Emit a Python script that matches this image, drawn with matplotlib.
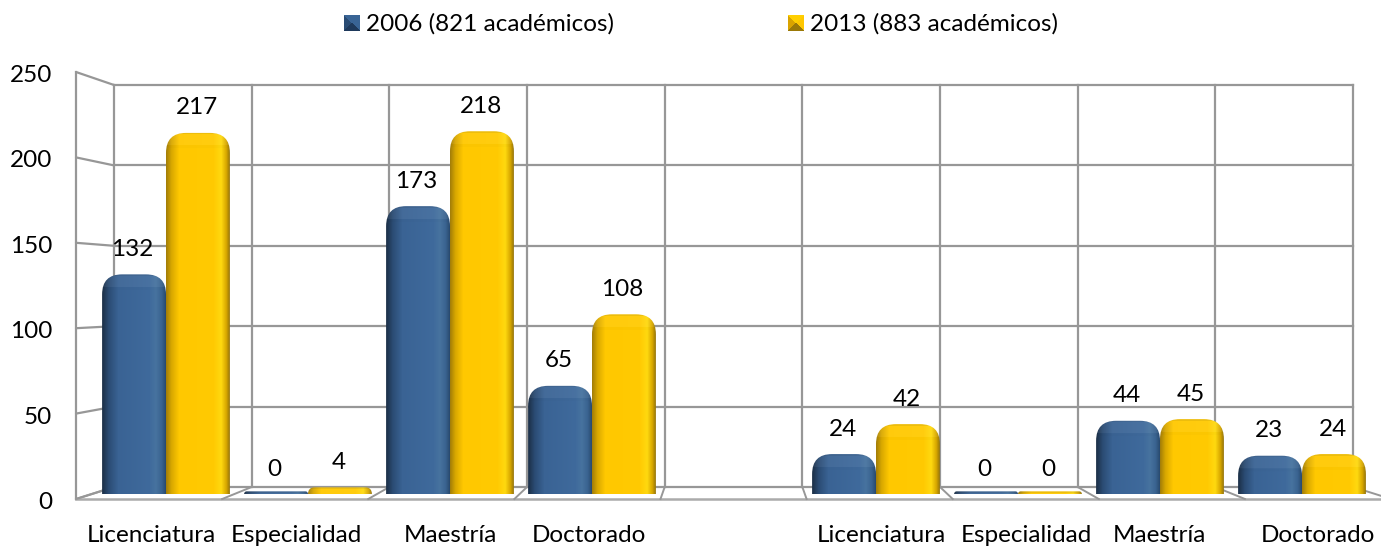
import numpy
import matplotlib
matplotlib.use("Agg")
import matplotlib.pyplot as plt
from matplotlib.colors import LinearSegmentedColormap
from matplotlib.patches import PathPatch
from matplotlib.path import Path

categories = ["Licenciatura", "Especialidad", "Maestría", "Doctorado", "",
              "Licenciatura", "Especialidad", "Maestría", "Doctorado"]
values_2006 = [132, 0, 173, 65, None, 24, 0, 44, 23]
values_2013 = [217, 4, 218, 108, None, 42, 0, 45, 24]
y_ticks = [0, 50, 100, 150, 200, 250]
legend_labels = ["2006 (821 académicos)", "2013 (883 académicos)"]

WIDTH, HEIGHT = 1381, 548
# bar plane: where category 0 sits and how many pixels one unit takes
X_ZERO, X_STEP = 166.0, 142.0
Y_ZERO, Y_STEP = 494.0, 1.664
BAR_W = 0.45
FONT = "Lato"
FONT_SIZE = 17.5
GRID = "#979797"

blue = LinearSegmentedColormap.from_list("blue", [(0, "#1c3048"), (0.1, "#2b4c74"), (0.25, "#3a6394"), (0.75, "#3f6a9c"),
                                                  (0.85, "#47739f"), (0.94, "#3a6390"), (1, "#2a4c72")])
yellow = LinearSegmentedColormap.from_list("yellow", [(0, "#a57f08"), (0.08, "#d9a800"), (0.2, "#ffc800"), (0.75, "#ffca02"),
                                                      (0.87, "#ffd90f"), (0.95, "#d8a800"), (1, "#9c7a0a")])

plt.rcParams["font.family"] = [FONT, "DejaVu Sans"]
fig = plt.figure(figsize=(WIDTH / 100, HEIGHT / 100), dpi=100)

# background in pixel coordinates for the fake 3D walls
bg = fig.add_axes([0, 0, 1, 1])
bg.set_xlim(0, WIDTH)
bg.set_ylim(HEIGHT, 0)
bg.axis("off")


def front_y(v):
    return 499 - 1.708 * v


def back_y(v):
    return 487 - 1.608 * v


wall_x = [114 + 137.67 * i for i in range(10)]
for v in y_ticks:
    bg.plot([76, 114], [front_y(v), back_y(v)], color=GRID, lw=1.6, solid_capstyle="round")
    bg.plot([114, 1353], [back_y(v), back_y(v)], color=GRID, lw=1.6)
    bg.text(52, front_y(v) + 3.5, str(v), ha="right", va="center", fontsize=FONT_SIZE, color="black")
bg.plot([76, 76], [front_y(250), front_y(0)], color=GRID, lw=1.6)
bg.plot([76, WIDTH], [front_y(0), front_y(0)], color="#ababab", lw=1.8)
for x in wall_x:
    bg.plot([x, x], [back_y(250), back_y(0)], color=GRID, lw=1.6)
    bg.plot([x, 733 + (x - 733) * 1.0613], [back_y(0), front_y(0)], color=GRID, lw=1.4)

# bars live in a second axes with category / value scales
ax = fig.add_axes([0, 0, 1, 1])
ax.patch.set_alpha(0)
ax.axis("off")
x_lim = (-X_ZERO / X_STEP, (WIDTH - X_ZERO) / X_STEP)
y_lim = ((Y_ZERO - HEIGHT) / Y_STEP, Y_ZERO / Y_STEP)


def top_shade(h_px, w_px, cmap):
    rows = max(int(round(h_px)), 1)
    img = numpy.tile(cmap(numpy.linspace(0, 1, w_px))[:, :3], (rows, 1, 1))
    for row in range(min(rows, 16)):
        if row < 13:
            img[row] = img[row] + (1 - img[row]) * 0.05
        else:
            img[row] = img[row] * 0.985
    # darker rim along the very top
    img[:min(2, rows)] *= 0.93
    return img


def draw_bar(x, value, cmap):
    v = max(value, 1.6)
    h_px = v * Y_STEP
    rx = min(20, h_px) / X_STEP
    ry = min(20, h_px) / Y_STEP
    x0, x1 = x - BAR_W / 2, x + BAR_W / 2
    verts = [(x0, 0), (x0, v - ry), (x0, v), (x0 + rx, v), (x1 - rx, v), (x1, v), (x1, v - ry), (x1, 0), (x0, 0)]
    codes = [Path.MOVETO, Path.LINETO, Path.CURVE3, Path.CURVE3, Path.LINETO, Path.CURVE3, Path.CURVE3, Path.LINETO,
             Path.CLOSEPOLY]
    patch = PathPatch(Path(verts, codes), facecolor="none", edgecolor="none")
    ax.add_patch(patch)
    im = ax.imshow(top_shade(h_px, 64, cmap), extent=[x0, x1, 0, v], aspect="auto", origin="upper", zorder=3)
    im.set_clip_path(patch)
    ax.annotate(str(value), (x - 0.01, value), xytext=(0, 25 * 0.72), textcoords="offset points",
                ha="center", va="center", fontsize=FONT_SIZE, color="black", zorder=5)


for i, (a, b) in enumerate(zip(values_2006, values_2013)):
    if a is None:
        continue
    draw_bar(i - BAR_W / 2, a, blue)
    draw_bar(i + BAR_W / 2, b, yellow)

ax.set_xlim(*x_lim)
ax.set_ylim(*y_lim)

# category labels are not centred under the bars in the original
label_px = [151, 296, 450, 589, 0, 881, 1026, 1159, 1318]
for name, px in zip(categories, label_px):
    if name:
        bg.text(px, 535.5, name, ha="center", va="center", fontsize=FONT_SIZE, color="black")

# legend with small pyramid swatches
swatches = [
    (344, ["#3a6596", "#2a4c74", "#1f3a5c", "#3a6596"]),
    (788, ["#ffd000", "#d9a400", "#9c7a08", "#ffc800"]),
]
for (px, shades), text in zip(swatches, legend_labels):
    size = 16
    top, left, bottom, right = [numpy.array(matplotlib.colors.to_rgb(c)) for c in shades]
    img = numpy.zeros((size, size, 3))
    for r in range(size):
        for c in range(size):
            if r <= c and r <= size - 1 - c:
                img[r, c] = top
            elif r >= c and r >= size - 1 - c:
                img[r, c] = bottom
            elif c < r:
                img[r, c] = left
            else:
                img[r, c] = right
    bg.imshow(img, extent=[px, px + size, 31, 15], aspect="auto", zorder=3)
    bg.text(px + 22, 24, text, ha="left", va="center", fontsize=FONT_SIZE, color="black")
bg.set_xlim(0, WIDTH)
bg.set_ylim(HEIGHT, 0)

fig.savefig("out.png", dpi=100)
